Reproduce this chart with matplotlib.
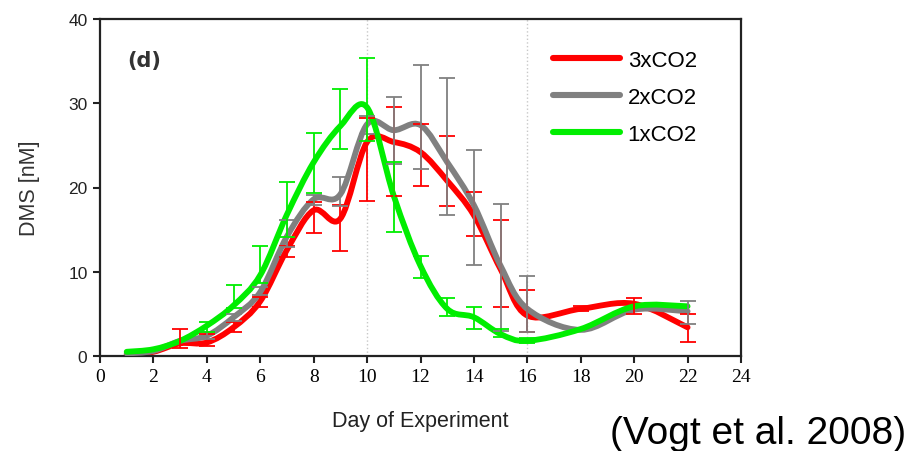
import numpy as np
import matplotlib
matplotlib.use("Agg")
import matplotlib.pyplot as plt
from matplotlib.path import Path
from matplotlib.patches import PathPatch
from matplotlib.lines import Line2D

nan = np.nan

# DMS over the mesocosm experiment, three CO2 treatments
days = [1, 2, 3, 4, 5, 6, 7, 8, 9, 10, 11, 12, 13, 14, 15, 16, 18, 20, 22]

red = [0.2, 0.5, 1.5, 1.6, 3.4, 6.5, 12.6, 17.3, 16.3, 25.4, 25.4, 24.2, 20.8, 16.7, 10.3, 4.8, 5.6, 6.2, 3.4]
red_hi = [nan, nan, 3.2, 2.6, 4.0, 7.0, 13.0, 18.3, 17.9, 28.3, 29.6, 27.5, 26.1, 19.5, 16.1, 7.8, 5.9, 6.9, 5.0]
red_lo = [nan, nan, 1.0, 1.2, 2.8, 5.8, 11.7, 14.6, 12.5, 18.4, 19.0, 20.2, 17.8, 14.3, 5.8, 2.9, 5.3, 5.0, 1.7]

gray = [0.3, 0.6, 1.8, 2.4, 4.6, 7.6, 14.2, 18.6, 19.2, 27.5, 26.8, 27.4, 23.0, 17.9, 10.7, 5.6, 3.1, 5.5, 5.3]
gray_hi = [nan, nan, nan, 2.8, 5.0, 8.2, 16.1, 19.1, 21.2, 28.5, 30.7, 34.5, 33.0, 24.5, 18.1, 9.5, nan, nan, 6.5]
gray_lo = [nan, nan, nan, 2.0, 4.2, 7.2, 12.9, 17.9, 17.8, 26.3, 22.8, 22.2, 16.7, 10.8, 3.0, 2.8, nan, nan, 3.8]

green = [0.5, 0.8, 1.8, 3.6, 6.0, 9.6, 16.8, 23.0, 27.3, 29.5, 19.0, 10.7, 5.6, 4.6, 2.6, 1.8, 3.2, 5.9, 5.9]
green_hi = [nan, nan, nan, 4.0, 8.4, 13.1, 20.7, 26.5, 31.7, 35.4, 23.0, 11.9, 6.9, 5.8, 3.2, 2.1, nan, nan, nan]
green_lo = [nan, nan, nan, 2.8, 5.7, 8.7, 14.1, 19.4, 24.6, 25.5, 14.7, 9.3, 4.7, 3.2, 2.2, 1.5, nan, nan, nan]

labels = ["3xCO2", "2xCO2", "1xCO2"]
colors = ["#ff0000", "#808080", "#00ee00"]
xticks = list(range(0, 25, 2))
yticks = [0, 10, 20, 30, 40]


def smooth_path(x, y):
    # Catmull-Rom through the points, written as cubic bezier segments
    p = np.column_stack([x, y]).astype(float)
    verts = [p[0]]
    codes = [Path.MOVETO]
    n = len(p)
    for i in range(n - 1):
        p0 = p[max(i - 1, 0)]
        p1 = p[i]
        p2 = p[i + 1]
        p3 = p[min(i + 2, n - 1)]
        c1 = p1 + (p2 - p0) / 6.0
        c2 = p2 - (p3 - p1) / 6.0
        verts += [c1, c2, p2]
        codes += [Path.CURVE4] * 3
    return Path(verts, codes)


fig = plt.figure(figsize=(9.18, 4.52), dpi=100)
ax = fig.add_axes([100 / 918, 95 / 452, 641 / 918, 337 / 452])

series = [(red, red_lo, red_hi), (gray, gray_lo, gray_hi), (green, green_lo, green_hi)]

for k, (vals, lo, hi) in enumerate(series):
    patch = PathPatch(smooth_path(days, vals), fill=False, edgecolor=colors[k],
                      lw=4.2, capstyle="round", joinstyle="round", zorder=2 + k)
    ax.add_patch(patch)

for k, (vals, lo, hi) in enumerate(series):
    d = np.array(days, float)
    v = np.array(vals, float)
    l = np.array(lo, float)
    h = np.array(hi, float)
    ok = ~np.isnan(l)
    ax.errorbar(d[ok], v[ok], yerr=[v[ok] - l[ok], h[ok] - v[ok]], fmt="none",
                ecolor=colors[k], elinewidth=1.3, capsize=6, capthick=1.3, zorder=6)

for xv in [10, 16]:
    ax.axvline(xv, color="#c8c8c8", lw=1.0, ls=":", zorder=1)

ax.set_xlim(0, 24)
ax.set_ylim(0, 40)
ax.set_xticks(xticks)
ax.set_yticks(yticks)
ax.set_xticklabels([str(t) for t in xticks], family="Liberation Serif", fontsize=14)
ax.set_yticklabels([str(t) for t in yticks], family="Liberation Sans", fontsize=12.5, color="#222222")
ax.tick_params(direction="out", length=5, width=1.5, color="#222222", pad=4)
for s in ax.spines.values():
    s.set_linewidth(1.6)
    s.set_color("#222222")

ax.set_xlabel("Day of Experiment", family=["Liberation Sans Narrow", "Liberation Sans"],
              fontsize=15.5, color="#222222", labelpad=18)
ax.set_ylabel("DMS [nM]", family="Liberation Sans", fontsize=15.5, color="#333333", labelpad=20)

ax.text(0.043, 0.86, "(d)", transform=ax.transAxes, fontsize=15, fontweight="bold",
        family="DejaVu Sans", color="#333333")

handles = [Line2D([], [], color=c, lw=4.4, solid_capstyle="round") for c in colors]
ax.legend(handles, labels, loc="upper left", bbox_to_anchor=(0.707, 0.908),
          frameon=False, borderpad=0, borderaxespad=0, handlelength=3.0,
          handletextpad=0.35, labelspacing=0.72,
          prop={"family": "Liberation Sans", "size": 16})

fig.text(610 / 918, 8 / 452, "(Vogt et al. 2008)", family="Liberation Sans",
         fontsize=28, color="black", ha="left", va="baseline")

fig.savefig("out.png", dpi=100)
